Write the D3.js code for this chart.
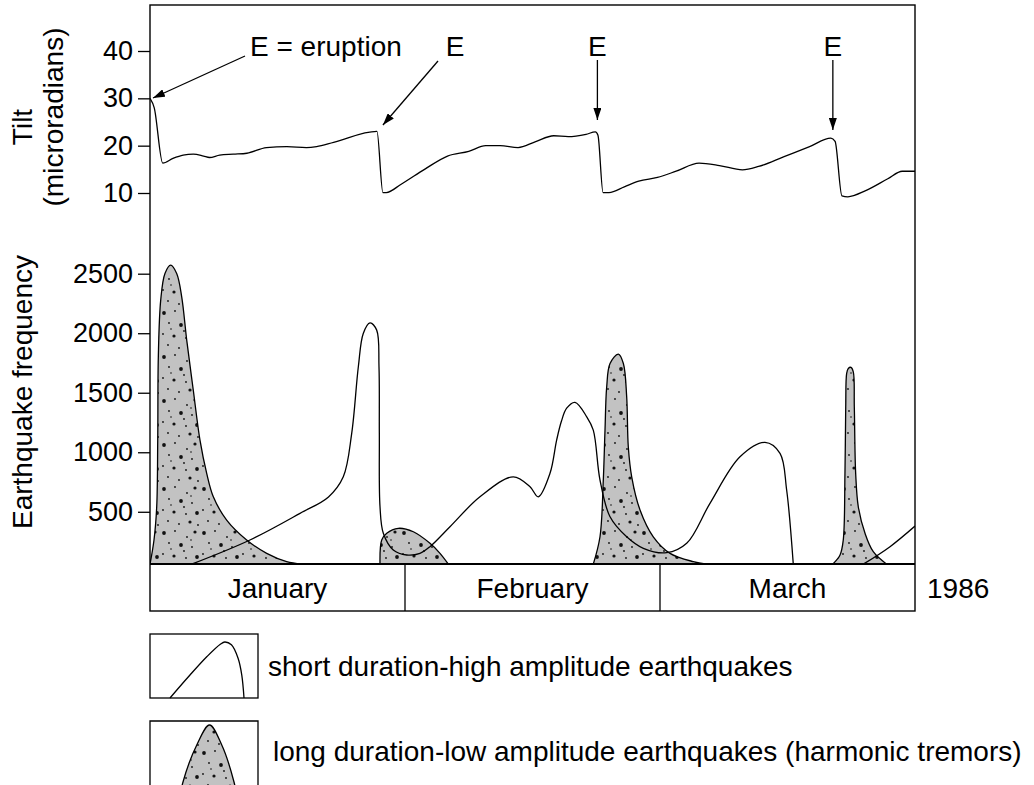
<!DOCTYPE html>
<html><head><meta charset="utf-8">
<script src="https://cdn.jsdelivr.net/npm/d3@7"></script>
<style>
body{margin:0;background:#fff}
text{font-family:"Liberation Sans",Arial,Helvetica,sans-serif;font-size:28px;fill:#000}
.tick text{font-size:27px}
</style>
</head><body>
<svg id="c" width="1034" height="785"></svg>
<script>
// ---------- data ----------
const months = ["January", "February", "March"];
const monthStarts = [0, 30, 60, 90];       // month boundaries (equal-width months, day units)
const yearLabel = "1986";
const tiltTicks = [10, 20, 30, 40];
const freqTicks = [500, 1000, 1500, 2000, 2500];
const freqBase = 60;                        // baseline of the frequency panel

const tiltDays = [0,0.5,1.5,2.7,3.9,5.1,6.3,7.0,8.2,9.8,11.4,13.7,16.1,18.4,19.6,21.6,26.7,27.4,27.8,29.5,32.3,35.0,37.5,39.5,41.2,43.3,45.3,47.5,49.2,51.3,52.4,52.7,53.3,54.0,55.8,57.5,59.7,61.9,64.6,67.0,69.7,71.6,74.6,77.6,80.1,80.6,81.4,82.1,84.2,86.8,88.5,90];
const tiltValues = [30,28,16.3,17.3,18.0,18.2,17.8,17.5,18.0,18.2,18.4,19.6,19.8,19.6,19.8,20.7,23.0,10.1,10.1,11.8,15.0,17.8,18.8,20.0,20.0,19.6,20.8,22.1,21.9,22.4,22.9,22.2,10.1,10.1,11.3,12.5,13.3,14.6,16.3,15.8,14.9,15.6,17.7,19.8,21.6,20.9,9.4,9.2,10.5,13.0,14.6,14.6];

// short duration-high amplitude earthquakes (line)
const shortDaysA = [4.9,11.76,17.65,21.0,22.74,23.73,24.51,25.09,25.88,26.67,26.94,26.98,27.06,27.45,28.62,30.2,31.76,32.94,35.29,38.82,42.74,44.71,45.68,47.06,47.84,48.4,49.02,50.0,51.38,52.15,52.94,54.12,56.08,58.04,60.78,63.14,65.88,69.41,72.35,74.12,74.9,75.68];
const shortValuesA = [60,263,487,625,794,1159,1718,1998,2087,2026,1718,1159,542,319,179,137,151,207,374,626,794,710,626,823,1102,1260,1370,1419,1298,1186,767,458,290,193,156,235,571,962,1083,991,683,60];
const shortDaysB = [83.92, 87.06, 90];
const shortValuesB = [60, 207, 380];

// long duration-low amplitude earthquakes (harmonic tremors, filled)
const tremorDays1 = [0,0.47,0.79,0.91,0.98,1.26,1.76,2.43,3.14,3.73,4.32,5.09,5.88,6.67,7.45,9.02,11.37,13.73,16.08,17.85];
const tremorValues1 = [60,263,542,1102,1802,2278,2502,2572,2502,2306,1942,1523,1102,823,626,430,263,151,81,60];
const tremorDays2 = [27.06,27.26,27.85,29.21,30.98,32.94,34.12,35.1];
const tremorValues2 = [60,263,319,361,332,235,151,60];
const tremorDays3 = [52.15,52.94,53.33,53.53,53.73,54.12,55.1,55.69,56.08,56.27,56.67,57.65,59.21,61.18,63.92,65.49];
const tremorValues3 = [60,290,767,1186,1550,1746,1825,1746,1466,1046,794,515,290,151,81,60];
const tremorDays4 = [80.32,81.18,81.56,81.76,81.85,81.96,82.15,82.47,82.74,82.86,83.02,83.33,84.12,85.09,86.67];
const tremorValues4 = [60,137,263,823,1382,1662,1704,1713,1676,1382,823,542,319,165,60];

const eruptionDays = [0, 26.7, 52.4, 80.1];
const eruptionLabels = ["E = eruption", "E", "E", "E"];
const legendLabels = ["short duration-high amplitude earthquakes",
                      "long duration-low amplitude earthquakes (harmonic tremors)"];
const tiltTitle = ["Tilt", "(microradians)"];
const freqTitle = "Earthquake frequency";

// legend glyph shapes (fractions of the glyph box)
const legendLineShape = [[0,0],[0.27,0.41],[0.5,0.74],[0.68,0.96],[0.74,1],[0.83,0.95],[0.92,0.71],[0.97,0.41],[1,0]];
const legendAreaShape = [[-0.07,-0.32],[0,0],[0.27,0.65],[0.52,1],[0.76,0.65],[1,0],[1.07,-0.32]];

// ---------- layout ----------
const svg = d3.select("#c");
const L = 150, R = 915, T = 5, B = 564, MB = 611;
const x = d3.scaleLinear().domain([0, 90]).range([L, R]);
const yT = d3.scaleLinear().domain([10, 40]).range([193, 51]);
const yF = d3.scaleLinear().domain([0, 2500]).range([571.3, 273.7]);
const curve = d3.curveCatmullRom.alpha(0.5);

const defs = svg.append("defs");
defs.append("clipPath").attr("id", "plot").append("rect")
  .attr("x", L).attr("y", T).attr("width", R - L).attr("height", B - T);

// stipple texture (decorative)
const stip = defs.append("pattern").attr("id", "stip").attr("patternUnits", "userSpaceOnUse")
  .attr("width", 40).attr("height", 44);
stip.append("rect").attr("width", 40).attr("height", 44).attr("fill", "#c2c2c2");
const dots = [[4,5,1.9],[15,3,0.9],[27,9,0.9],[35,4,1.6],[9,15,0.9],[21,17,1.9],[32,19,0.9],[3,26,0.9],
  [14,28,1.6],[26,30,0.9],[37,29,1.9],[8,37,0.9],[19,40,0.9],[30,38,1.6],[38,41,0.9],[24,23,0.9],[11,21,0.8],[31,12,0.8]];
stip.selectAll("circle").data(dots).join("circle")
  .attr("cx", d => d[0]).attr("cy", d => d[1]).attr("r", d => d[2]).attr("fill", "#111");

defs.append("marker").attr("id", "arr").attr("markerUnits", "userSpaceOnUse")
  .attr("viewBox", "0 0 12 8").attr("refX", 12).attr("refY", 4)
  .attr("markerWidth", 12).attr("markerHeight", 8).attr("orient", "auto")
  .append("path").attr("d", "M0,0 L12,4 L0,8 Z").attr("fill", "#000");

// ---------- plot contents ----------
const g = svg.append("g").attr("clip-path", "url(#plot)");
const area = d3.area().x(d => x(d[0])).y0(yF(freqBase)).y1(d => yF(d[1])).curve(curve);
const tremors = [[tremorDays1, tremorValues1], [tremorDays2, tremorValues2],
                 [tremorDays3, tremorValues3], [tremorDays4, tremorValues4]];
tremors.forEach(([ds, vs]) => {
  g.append("path").datum(ds.map((d, i) => [d, vs[i]]))
    .attr("d", area).attr("fill", "url(#stip)").attr("stroke", "#000").attr("stroke-width", 1.3);
});

const fline = d3.line().x(d => x(d[0])).y(d => yF(d[1])).curve(curve);
[[shortDaysA, shortValuesA], [shortDaysB, shortValuesB]].forEach(([ds, vs]) => {
  g.append("path").datum(ds.map((d, i) => [d, vs[i]]))
    .attr("d", fline).attr("fill", "none").attr("stroke", "#000").attr("stroke-width", 1.3);
});

const tline = d3.line().x(d => x(d[0])).y(d => yT(d[1])).curve(d3.curveMonotoneX);
g.append("path").datum(tiltDays.map((d, i) => [d, tiltValues[i]]))
  .attr("d", tline).attr("fill", "none").attr("stroke", "#000").attr("stroke-width", 1.3);

// ---------- frame & month bar ----------
const fr = svg.append("g").attr("stroke", "#000").attr("fill", "none");
fr.append("rect").attr("x", L).attr("y", T).attr("width", R - L).attr("height", MB - T).attr("stroke-width", 1.4);
fr.append("line").attr("x1", L).attr("x2", R).attr("y1", B).attr("y2", B).attr("stroke-width", 1.8);
fr.selectAll("line.m").data(monthStarts.slice(1, 3)).join("line").attr("class", "m")
  .attr("x1", d => x(d)).attr("x2", d => x(d)).attr("y1", B).attr("y2", MB).attr("stroke-width", 1.3);
svg.selectAll("text.month").data(months).join("text").attr("class", "month")
  .attr("x", (d, i) => (x(monthStarts[i]) + x(monthStarts[i + 1])) / 2).attr("y", 598)
  .attr("text-anchor", "middle").text(d => d);
svg.append("text").attr("x", 927).attr("y", 598).text(yearLabel);

// ---------- axes ----------
function styleAxis(sel) {
  sel.select(".domain").remove();
  sel.selectAll(".tick line").attr("stroke", "#000").attr("stroke-width", 1.3);
  sel.selectAll(".tick text").attr("fill", "#000");
  sel.attr("font-size", null).attr("font-family", null);
}
svg.append("g").attr("transform", `translate(${L},0)`)
  .call(d3.axisLeft(yT).tickValues(tiltTicks).tickFormat(d3.format("d")).tickSize(12).tickPadding(5)).call(styleAxis);
svg.append("g").attr("transform", `translate(${L},0)`)
  .call(d3.axisLeft(yF).tickValues(freqTicks).tickFormat(d3.format("d")).tickSize(12).tickPadding(5)).call(styleAxis);

svg.append("text").attr("transform", "translate(31.5,127) rotate(-90)").attr("text-anchor", "middle").text(tiltTitle[0]);
svg.append("text").attr("transform", "translate(62.5,117) rotate(-90)").attr("text-anchor", "middle").text(tiltTitle[1]);
svg.append("text").attr("transform", "translate(31.5,392) rotate(-90)").attr("text-anchor", "middle").text(freqTitle);

// ---------- eruption annotations ----------
const arrows = [
  {tip: [x(eruptionDays[0]) + 3, 98], start: [245, 56], lx: 250, anchor: "start"},
  {tip: [x(eruptionDays[1]) + 6, 125], start: [438, 61], lx: 455, anchor: "middle"},
  {tip: [x(eruptionDays[2]) + 2, 120], start: [x(eruptionDays[2]) + 2, 60], lx: x(eruptionDays[2]) + 2, anchor: "middle"},
  {tip: [x(eruptionDays[3]) + 2, 130], start: [x(eruptionDays[3]) + 2, 60], lx: x(eruptionDays[3]) + 2, anchor: "middle"}
];
arrows.forEach((a, i) => {
  svg.append("line").attr("x1", a.start[0]).attr("y1", a.start[1]).attr("x2", a.tip[0]).attr("y2", a.tip[1])
    .attr("stroke", "#000").attr("stroke-width", 1.3).attr("marker-end", "url(#arr)");
  svg.append("text").attr("x", a.lx).attr("y", 55.5).attr("text-anchor", a.anchor).text(eruptionLabels[i]);
});

// ---------- legend ----------
const lg = svg.append("g");
lg.append("rect").attr("x", 150).attr("y", 634).attr("width", 108).attr("height", 64)
  .attr("fill", "none").attr("stroke", "#000").attr("stroke-width", 1.3);
const lx1 = d3.scaleLinear().domain([0, 1]).range([170, 244]);
const ly1 = d3.scaleLinear().domain([0, 1]).range([698, 642]);
lg.append("path").datum(legendLineShape)
  .attr("d", d3.line().x(d => lx1(d[0])).y(d => ly1(d[1])).curve(curve))
  .attr("fill", "none").attr("stroke", "#000").attr("stroke-width", 1.3);
lg.append("text").attr("x", 268).attr("y", 676).text(legendLabels[0]);

lg.append("path").attr("d", "M150,790 V721 H258 V790").attr("fill", "none").attr("stroke", "#000").attr("stroke-width", 1.3);
const lx2 = d3.scaleLinear().domain([0, 1]).range([183, 234]);
const ly2 = d3.scaleLinear().domain([0, 1]).range([782, 725]);
lg.append("path").datum(legendAreaShape)
  .attr("d", d3.area().x(d => lx2(d[0])).y0(800).y1(d => ly2(d[1])).curve(curve))
  .attr("fill", "url(#stip)").attr("stroke", "#000").attr("stroke-width", 1.3);
lg.append("text").attr("x", 273).attr("y", 761).text(legendLabels[1]);
</script>
</body></html>
